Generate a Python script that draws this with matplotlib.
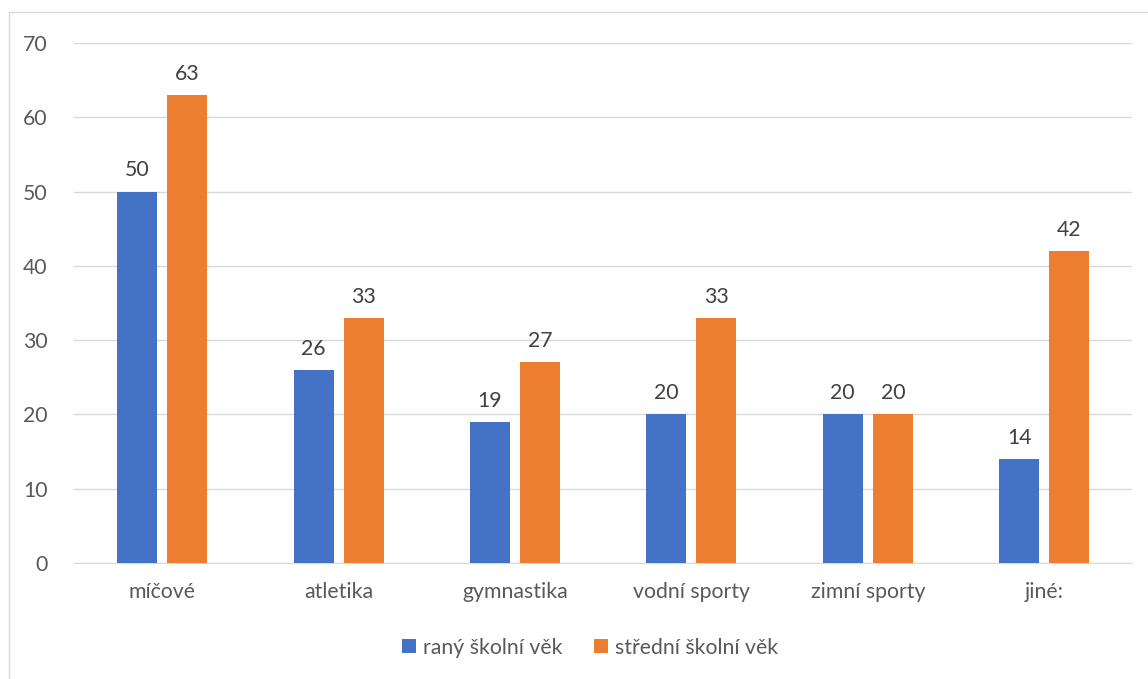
import matplotlib
matplotlib.use("Agg")
import matplotlib.pyplot as plt
import numpy as np
from matplotlib.patches import Rectangle

categories = ["míčové", "atletika", "gymnastika", "vodní sporty", "zimní sporty", "jiné:"]
early = [50, 26, 19, 20, 20, 14]
middle = [63, 33, 27, 33, 20, 42]
series_names = ["raný školní věk", "střední školní věk"]
colors = ["#4472C4", "#ED7D31"]
text_color = "#595959"

plt.rcParams['font.family'] = ['Lato', 'DejaVu Sans']
fs = 15.3

fig = plt.figure(figsize=(11.48, 6.79), dpi=100)
ax = fig.add_axes([74 / 1148, 0.1708, 1058.4 / 1148, 0.7659])

x = np.arange(len(categories))
w = 0.227
off = 0.142
b1 = ax.bar(x - off, early, w, color=colors[0], label=series_names[0], zorder=3)
b2 = ax.bar(x + off, middle, w, color=colors[1], label=series_names[1], zorder=3)

for bars, vals in ((b1, early), (b2, middle)):
    for r, v in zip(bars, vals):
        ax.text(r.get_x() + r.get_width() / 2, v + 1.5, str(v), ha='center', va='bottom',
                fontsize=fs, color='#404040')

ax.set_xlim(-0.5, len(categories) - 0.5)
ax.set_ylim(0, 70)
ax.set_yticks(range(0, 71, 10))
ax.yaxis.grid(True, color='#D9D9D9', linewidth=1, zorder=0)
ax.set_xticks(x)
ax.set_xticklabels(categories)
for s in ['top', 'right', 'left']:
    ax.spines[s].set_visible(False)
ax.spines['bottom'].set_color('#D9D9D9')
ax.tick_params(axis='both', length=0, labelsize=fs, colors=text_color)
ax.tick_params(axis='x', pad=14)
ax.tick_params(axis='y', pad=19)

leg = fig.legend(handles=[b1, b2], loc='center', bbox_to_anchor=(0.514, 0.046), ncol=2,
                 frameon=False, fontsize=fs, handlelength=0.66, handleheight=0.66,
                 columnspacing=1.5, handletextpad=0.3)
for t in leg.get_texts():
    t.set_color(text_color)

fig.patches.append(Rectangle((8.5 / 1148, -0.1), 1.2, 1 - 12 / 679 + 0.1, transform=fig.transFigure,
                             fill=False, edgecolor='#D9D9D9', linewidth=1))

fig.savefig("out.png", dpi=100)
